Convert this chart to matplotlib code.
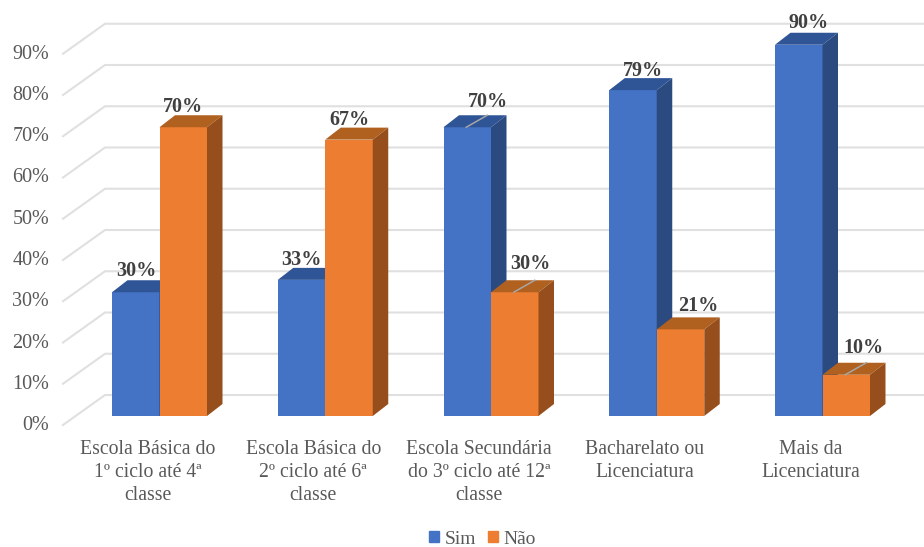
import matplotlib
matplotlib.use("Agg")
import matplotlib.pyplot as plt
from matplotlib.patches import Polygon, Patch
from matplotlib.transforms import ScaledTranslation

categories = ["Escola Básica do\n1º ciclo até 4ª\nclasse", "Escola Básica do\n2º ciclo até 6ª\nclasse",
              "Escola Secundária\ndo 3º ciclo até 12ª\nclasse", "Bacharelato ou\nLicenciatura", "Mais da\nLicenciatura"]
sim = [30, 33, 70, 79, 90]
nao = [70, 67, 30, 21, 10]
labels_sim = ["30%", "33%", "70%", "79%", "90%"]
labels_nao = ["70%", "67%", "30%", "21%", "10%"]
yticks = list(range(0, 100, 10))

W, H = 924, 547
PXX = 165.75          # px per category
PXY = 4.125           # px per percent
X0, Y0 = 159.5, 416   # pixel of category 0 / value 0
L, R, T = 63, 924, 4

plt.rcParams["font.family"] = ["Liberation Serif", "DejaVu Serif"]
fig = plt.figure(figsize=(W/100, H/100), dpi=100)
ax = fig.add_axes([L/W, 1-Y0/H, (R-L)/W, (Y0-T)/H])
ax.set_xlim((L-X0)/PXX, (R-X0)/PXX)
ax.set_ylim(0, (Y0-T)/PXY)
for s in ax.spines.values():
    s.set_visible(False)

def px(dx):
    return dx/PXX
def py(dy):
    return dy/PXY

# walls / gridlines
GRID = "#e0e0e0"
for v in yticks:
    ax.plot([px(L-X0), px(105-X0), px(R-X0)],
            [v-py(9), v+py(21), v+py(21)], color=GRID, lw=1.5, clip_on=False, zorder=1)

bw = 47.5/PXX
DX, DY = 15.5, 12
def bar3d(x0, v, front, top, side, z):
    x1 = x0+bw
    ax.bar(x0, v, width=bw, align="edge", color=front, zorder=z)
    ax.add_patch(Polygon([(x0, v), (x1, v), (x1+px(DX), v+py(DY)), (x0+px(DX), v+py(DY))],
                         closed=True, fc=top, ec="none", zorder=z))
    ax.add_patch(Polygon([(x1, 0), (x1+px(DX), py(DY)), (x1+px(DX), v+py(DY)), (x1, v)],
                         closed=True, fc=side, ec="none", zorder=z))

BLUE, BLUE_T, BLUE_S = "#4472c4", "#2f5597", "#2a4a80"
OR, OR_T, OR_S = "#ed7d31", "#b0601f", "#964f1c"
for i in range(len(categories)):
    bar3d(i-bw, sim[i], BLUE, BLUE_T, BLUE_S, 3)
    bar3d(i, nao[i], OR, OR_T, OR_S, 4 if nao[i] > sim[i] else 3.5)

# data labels: pixel offsets from the front-top centre of each bar
lab_off_s = [(1, 21), (0, 20), (21, 25), (10, 19), (10, 22)]
lab_off_n = [(0, 20), (0, 20), (16, 28), (18, 23), (17, 27)]
for i in range(len(categories)):
    ax.text(i-bw/2+px(lab_off_s[i][0]), sim[i]+py(lab_off_s[i][1]), labels_sim[i], ha="center", va="center",
            fontsize=14.5, fontweight="bold", color="#404040", zorder=6)
    ax.text(i+bw/2+px(lab_off_n[i][0]), nao[i]+py(lab_off_n[i][1]), labels_nao[i], ha="center", va="center",
            fontsize=14.5, fontweight="bold", color="#404040", zorder=6)

# leader lines
for (i, v, off) in [(2, sim[2], -bw/2), (2, nao[2], bw/2), (4, nao[4], bw/2)]:
    ax.plot([i+off-px(1), i+off+px(20)], [v, v+py(12)], color="#a6a6a6", lw=1.1, zorder=5)

ax.set_yticks(yticks, [f"{v}%" for v in yticks])
ax.set_xticks(range(len(categories)), categories)
ax.tick_params(axis="both", length=0, labelcolor="#595959")
ax.tick_params(axis="y", labelsize=14.5, pad=10)
ax.tick_params(axis="x", labelsize=14.2, pad=17.5)
for t in ax.get_yticklabels():
    t.set_transform(t.get_transform()+ScaledTranslation(0, -7/100, fig.dpi_scale_trans))
for t in ax.get_xticklabels():
    t.set_linespacing(1.27)
    t.set_transform(t.get_transform()+ScaledTranslation(-12/100, 0, fig.dpi_scale_trans))

leg = ax.legend(handles=[Patch(color=BLUE, label="Sim"), Patch(color=OR, label="Não")],
                loc="center", bbox_to_anchor=(482.5/W, 1-539/H), bbox_transform=fig.transFigure,
                ncol=2, frameon=False, fontsize=14, handlelength=0.52, handleheight=0.52,
                handletextpad=0.3, columnspacing=0.6, labelcolor="#595959")
fig.savefig("out.png", dpi=100)
